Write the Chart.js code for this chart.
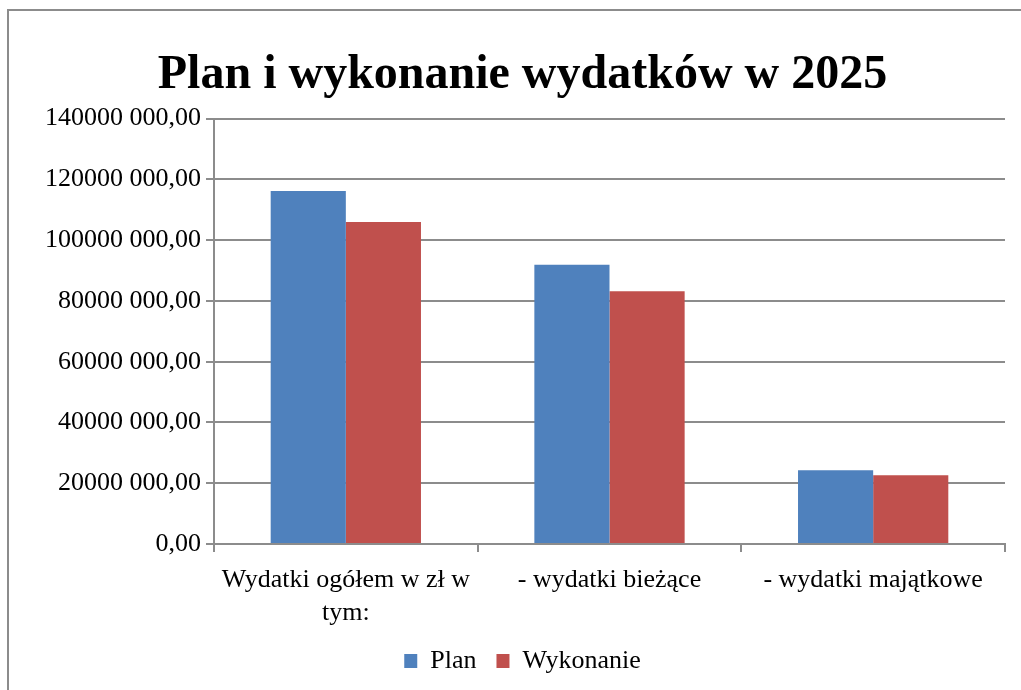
<!DOCTYPE html>
<html>
<head>
<meta charset="utf-8">
<script src="https://cdn.jsdelivr.net/npm/chart.js@4"></script>
<style>
  html, body { margin: 0; padding: 0; background: #fff; overflow: hidden; }
  #frame { position: absolute; left: 7px; top: 9px; width: 1200px; height: 900px;
           border-top: 2px solid #8c8c8c; border-left: 2px solid #8c8c8c; }
  #wrap { position: absolute; left: 0; top: 0; width: 1021px; height: 690px; }
</style>
</head>
<body>
<div id="frame"></div>
<div id="wrap"><canvas id="chart"></canvas></div>
<script>
const categories = [['Wydatki ogółem w zł w', 'tym:'], '- wydatki bieżące', '- wydatki majątkowe'];
const planValues = [116200000, 91900000, 24300000];
const wykonanieValues = [106000000, 83200000, 22600000];
const seriesNames = ['Plan', 'Wykonanie'];

const fontFamily = "'Liberation Serif', 'Times New Roman', serif";

function formatTick(v) {
    if (v === 0) return '0,00';
    const thousands = Math.floor(v / 1000);
    const rest = String(v % 1000).padStart(3, '0');
    return thousands + ' ' + rest + ',00';
}

new Chart(document.getElementById('chart'), {
    type: 'bar',
    data: {
        labels: categories,
        datasets: [
            { label: seriesNames[0], data: planValues, backgroundColor: '#4f81bd',
              categoryPercentage: 0.57, barPercentage: 1.0 },
            { label: seriesNames[1], data: wykonanieValues, backgroundColor: '#c0504d',
              categoryPercentage: 0.57, barPercentage: 1.0 }
        ]
    },
    options: {
        responsive: true,
        maintainAspectRatio: false,
        animation: false,
        layout: { padding: { top: 22, left: 40, right: 16, bottom: 6 } },
        plugins: {
            title: {
                display: true,
                text: 'Plan i wykonanie wydatków w 2025',
                color: '#000',
                font: { family: fontFamily, size: 48, weight: 'bold' },
                padding: { top: 25, bottom: 14 }
            },
            legend: {
                position: 'bottom',
                labels: {
                    color: '#000',
                    font: { family: fontFamily, size: 26 },
                    boxWidth: 13, boxHeight: 14,
                    padding: 20
                }
            },
            tooltip: { enabled: false }
        },
        scales: {
            x: {
                grid: { display: true, drawOnChartArea: false, color: '#8c8c8c', lineWidth: 2, tickLength: 8, offset: true },
                border: { color: '#8c8c8c', width: 2 },
                ticks: { color: '#000', font: { family: fontFamily, size: 26, lineHeight: 1.25 }, maxRotation: 0, padding: 12 },
                // pull the plot down closer to the legend, like the original
                afterFit: s => { s.height -= 13; }
            },
            y: {
                min: 0,
                max: 140000000,
                grid: { color: '#8c8c8c', lineWidth: 2, tickLength: 8 },
                border: { color: '#8c8c8c', width: 2 },
                ticks: { stepSize: 20000000, color: '#000', font: { family: fontFamily, size: 26 }, padding: 5,
                         callback: v => formatTick(v) }
            }
        }
    }
});
</script>
</body>
</html>
